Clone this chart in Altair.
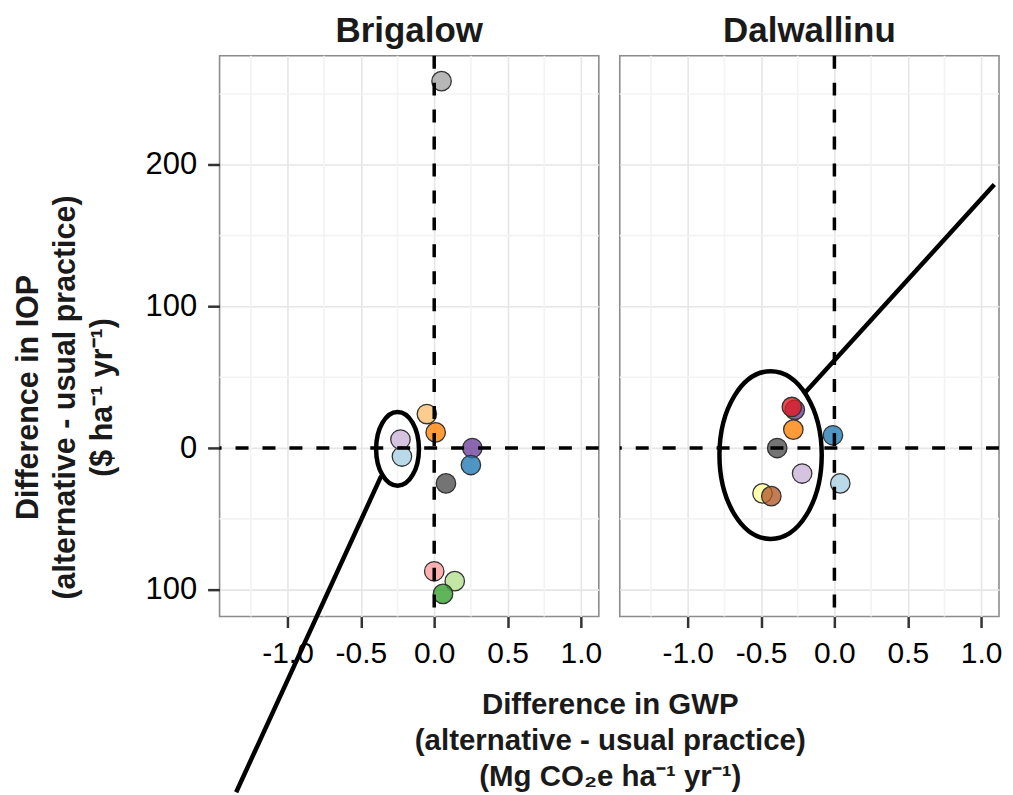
import altair as alt
import pandas as pd

# ---------------- data ----------------
treatments = ["T01", "T02", "T03", "T04", "T05", "T06", "T07",
              "T08", "T09", "T10", "T11", "T12", "T13", "T14"]
treatment_colors = ["#A3A3A3", "#FDBF6F", "#FF7F00", "#6A3D9A", "#1F78B4",
                    "#4D4D4D", "#CAB2D6", "#A6CEE3", "#FB9A99", "#B2DF8A",
                    "#33A02C", "#E31A1C", "#FFFF99", "#B15928"]

brig_treat = ["T01", "T02", "T03", "T04", "T05", "T06", "T07", "T08", "T09", "T10", "T11"]
brig_gwp = [0.05, -0.05, 0.01, 0.26, 0.25, 0.08, -0.23, -0.22, 0.00, 0.14, 0.06]
brig_iop = [259, 24, 11, 0, -12, -25, 6, -6, -87, -94, -103]

dal_treat = ["T04", "T12", "T03", "T05", "T06", "T07", "T08", "T13", "T14"]
dal_gwp = [-0.27, -0.29, -0.28, -0.01, -0.39, -0.22, 0.04, -0.49, -0.43]
dal_iop = [27, 29, 13, 9, 0, -18, -25, -32, -34]

x_major = [-1.0, -0.5, 0.0, 0.5, 1.0]
x_labels = ["-1.0", "-0.5", "0.0", "0.5", "1.0"]
x_minor = [-1.25, -0.75, -0.25, 0.25, 0.75]
y_major = [-100, 0, 100, 200]
y_labels = ["100", "0", "100", "200"]
y_minor = [-50, 50, 150, 250]
x_domain = [-1.463, 1.122]
y_domain = [-119, 277]

ellipse_gwp = {"Brigalow": -0.25, "Dalwallinu": -0.435}
ellipse_iop = {"Brigalow": -0.6, "Dalwallinu": -5.0}
pointer_gwp = {"Brigalow": [-0.361, -1.35], "Dalwallinu": [-0.204, 1.09]}
pointer_iop = {"Brigalow": [-19.7, -243.0], "Dalwallinu": [38.7, 186.0]}

x_title = ["Difference in GWP", "(alternative - usual practice)", "(Mg CO\u2082e ha\u207b\u00b9 yr\u207b\u00b9)"]
y_title = ["Difference in IOP", "(alternative - usual practice)", "($ ha\u207b\u00b9 yr\u207b\u00b9)"]

FONT = "Liberation Sans"


def label_expr(values, labels):
    expr = "''"
    for v, l in reversed(list(zip(values, labels))):
        expr = f"datum.value == {v} ? '{l}' : ({expr})"
    return expr


xscale = alt.Scale(domain=x_domain, nice=False, zero=False)
yscale = alt.Scale(domain=y_domain, nice=False, zero=False)

ell_shapes = {
    "Brigalow": ("M -0.58 0 A 0.58 1 0 1 0 0.58 0 A 0.58 1 0 1 0 -0.58 0 Z", 5476),
    "Dalwallinu": ("M -0.61 0 A 0.61 1 0 1 0 0.61 0 A 0.61 1 0 1 0 -0.61 0 Z", 28224),
}


def make_panel(site, treat, gwp, iop, left):
    common_x = dict(values=x_major, labelExpr=label_expr(x_major, x_labels), grid=True,
                    gridColor="#e6e6e6", gridWidth=1.6, domain=False, ticks=True,
                    tickSize=11, tickWidth=2.5, tickColor="#333333", labelFontSize=30,
                    labelColor="#000000", labelPadding=11, labelFlush=False,
                    labelFont=FONT)
    if left:
        x_axis = alt.Axis(title=x_title, titleFontSize=29.5, titleFontWeight="bold",
                          titleColor="#1a1a1a", titleLineHeight=36, titleX=391,
                          titleY=74, titleFont=FONT, **common_x)
        y_axis = alt.Axis(values=y_major, labelExpr=label_expr(y_major, y_labels),
                          grid=True, gridColor="#e6e6e6", gridWidth=1.6, domain=False,
                          tickSize=12, tickWidth=2.5, tickColor="#333333",
                          labelFontSize=31, labelColor="#000000", labelPadding=11,
                          labelFont=FONT, title=y_title, titleFontSize=30.5,
                          titleFontWeight="bold", titleColor="#1a1a1a",
                          titleLineHeight=37, titleX=-176, titleY=342, titleFont=FONT)
    else:
        x_axis = alt.Axis(title=None, **common_x)
        y_axis = alt.Axis(values=y_major, labels=False, ticks=False, domain=False,
                          grid=True, gridColor="#e6e6e6", gridWidth=1.6, title=None)

    X = alt.X("x:Q", scale=xscale, axis=x_axis)
    Y = alt.Y("y:Q", scale=yscale, axis=y_axis)

    minor_x = alt.Chart(pd.DataFrame({"x": x_minor})).mark_rule(
        color="#f3f3f3", strokeWidth=1.6).encode(x=X)
    minor_y = alt.Chart(pd.DataFrame({"y": y_minor})).mark_rule(
        color="#f3f3f3", strokeWidth=1.6).encode(y=Y)

    pts = pd.DataFrame({"treatment": treat, "x": gwp, "y": iop})
    points = alt.Chart(pts).mark_circle(
        size=380, opacity=1, fillOpacity=0.78, stroke="#333333", strokeWidth=1.3,
        strokeOpacity=1).encode(
        x=X, y=Y,
        color=alt.Color("treatment:N", scale=alt.Scale(domain=treatments, range=treatment_colors),
                        legend=None))

    zero_x = alt.Chart(pd.DataFrame({"x": [0.0]})).mark_rule(
        color="black", strokeWidth=3.5, strokeDash=[13, 14]).encode(x=X)
    zero_y = alt.Chart(pd.DataFrame({"y": [0.0]})).mark_rule(
        color="black", strokeWidth=3.5, strokeDash=[13, 14]).encode(y=Y)

    shape, sz = ell_shapes[site]
    ell = alt.Chart(pd.DataFrame({"x": [ellipse_gwp[site]], "y": [ellipse_iop[site]]})).mark_point(
        shape=shape, size=sz, filled=False, stroke="black", strokeWidth=4.5,
        opacity=1, clip=False).encode(x=X, y=Y)

    ptr = alt.Chart(pd.DataFrame({"x": pointer_gwp[site], "y": pointer_iop[site]})).mark_line(
        color="black", strokeWidth=4.5, clip=False).encode(x=X, y=Y)

    return alt.layer(minor_x, minor_y, points, zero_x, zero_y, ell, ptr).properties(
        width=380, height=562,
        title=alt.TitleParams(site, fontSize=35, fontWeight="bold", offset=5,
                              color="#1a1a1a", anchor="middle", font=FONT))


left = make_panel("Brigalow", brig_treat, brig_gwp, brig_iop, True)
right = make_panel("Dalwallinu", dal_treat, dal_gwp, dal_iop, False)

chart = alt.hconcat(left, right, spacing=21, bounds="flush").properties(
    padding={"left": 5, "top": 4, "right": 0, "bottom": 0}
).configure(font=FONT).configure_view(stroke="#8c8c8c", strokeWidth=1.6)

chart.save("out.html", embed_options={"renderer": "svg", "actions": False})
